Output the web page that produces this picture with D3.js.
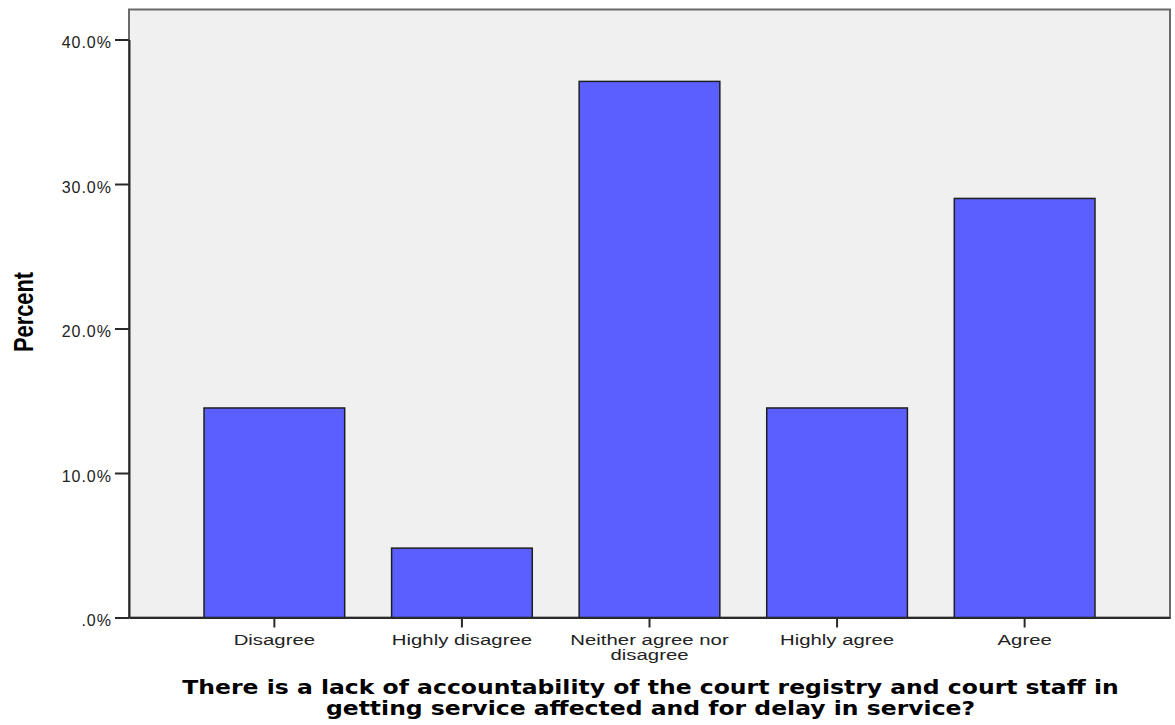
<!DOCTYPE html>
<html><head><meta charset="utf-8">
<script src="https://cdn.jsdelivr.net/npm/d3@7"></script>
<style>body{margin:0;background:#fff}</style>
</head><body>
<svg id="c" width="1175" height="725"></svg>
<script>
const categories = ["Disagree","Highly disagree","Neither agree nor disagree","Highly agree","Agree"];
const categoryLines = [["Disagree"],["Highly disagree"],["Neither agree nor","disagree"],["Highly agree"],["Agree"]];
const percentValues = [14.5, 4.8, 37.1, 14.5, 29.0];
const yTicks = [0, 10, 20, 30, 40];
const yTickLabels = [".0%", "10.0%", "20.0%", "30.0%", "40.0%"];
const yTitle = "Percent";
const xTitleLines = ["There is a lack of accountability of the court registry and court staff in",
                     "getting service affected and for delay in service?"];

const svg = d3.select("#c");
const L = 129, R = 1170, T = 9.5, B = 617.5;
const x = d3.scaleBand().domain(categories).range([L, R]).paddingInner(0.25).paddingOuter(0.4);
const y = d3.scaleLinear().domain([0, 40]).range([B, 39.5]);

svg.append("rect").attr("x", L).attr("y", T).attr("width", R - L).attr("height", B - T)
  .attr("fill", "#f0f0f0").attr("stroke", "#6a6a6a").attr("stroke-width", 2);

svg.selectAll("rect.bar").data(percentValues).join("rect").attr("class","bar")
  .attr("x", (d,i) => x(categories[i])).attr("width", x.bandwidth())
  .attr("y", d => y(d)).attr("height", d => B - y(d))
  .attr("fill", "#5b5fff").attr("stroke", "#1e1e1e").attr("stroke-width", 1.5);

// y axis
const yAxis = d3.axisLeft(y).tickValues(yTicks).tickFormat((d,i) => yTickLabels[i])
  .tickSize(14).tickSizeOuter(0).tickPadding(3);
const gy = svg.append("g").attr("transform", `translate(${L},0)`).call(yAxis);
gy.select(".domain").attr("stroke", "#2a2a2a").attr("stroke-width", 2);
gy.selectAll(".tick line").attr("stroke", "#2a2a2a").attr("stroke-width", 2);
gy.selectAll(".tick text").attr("fill", "#222").attr("dy", "0.5em")
  .style("font-family", "Liberation Sans, Arial, sans-serif").style("font-size", "16px")
  .style("letter-spacing", "1px");

// x axis
const xAxis = d3.axisBottom(x).tickSize(10).tickSizeOuter(0).tickFormat("");
const gx = svg.append("g").attr("transform", `translate(0,${B})`).call(xAxis);
gx.select(".domain").attr("stroke", "#2a2a2a").attr("stroke-width", 2);
gx.selectAll(".tick line").attr("stroke", "#2a2a2a").attr("stroke-width", 2);
gx.selectAll(".tick").each(function(d, i) {
  const t = d3.select(this).append("text").attr("fill", "#222").attr("text-anchor", "middle")
    .attr("transform", "scale(1.33,1)")
    .style("font-family", "Liberation Sans, Arial, sans-serif").style("font-size", "15.3px");
  categoryLines[i].forEach((ln, j) => t.append("tspan").attr("x", 0).attr("y", 28 + j * 15).text(ln));
});

// y title
const yt = svg.append("text").attr("transform", "translate(33,312) rotate(-90)").attr("text-anchor", "middle")
  .style("font-family", "Liberation Sans Narrow, Arial Narrow, sans-serif").style("font-weight", "bold")
  .style("font-size", "27px").attr("fill", "#000").text(yTitle);
const ytw = yt.node().getComputedTextLength();
yt.attr("transform", `translate(33,312) rotate(-90) scale(${80 / ytw},1)`);

// x title
const tt = svg.append("g");
const titleY = j => 694 + j * 21;
xTitleLines.forEach((ln, j) => {
  tt.append("text").attr("text-anchor", "middle").attr("x", 0).attr("y", 0)
    .attr("transform", `translate(650.5,${titleY(j)})`)
    .style("font-family", "DejaVu Sans, Verdana, sans-serif").style("font-weight", "bold")
    .style("font-size", "19px").attr("fill", "#000").text(ln);
});
// stretch title horizontally so the first line spans the reference width
const w0 = tt.select("text").node().getComputedTextLength();
const sx = 937 / w0;
tt.selectAll("text").attr("transform", (d, j) => `translate(650.5,${titleY(j)}) scale(${sx},1)`);
</script>
</body></html>
